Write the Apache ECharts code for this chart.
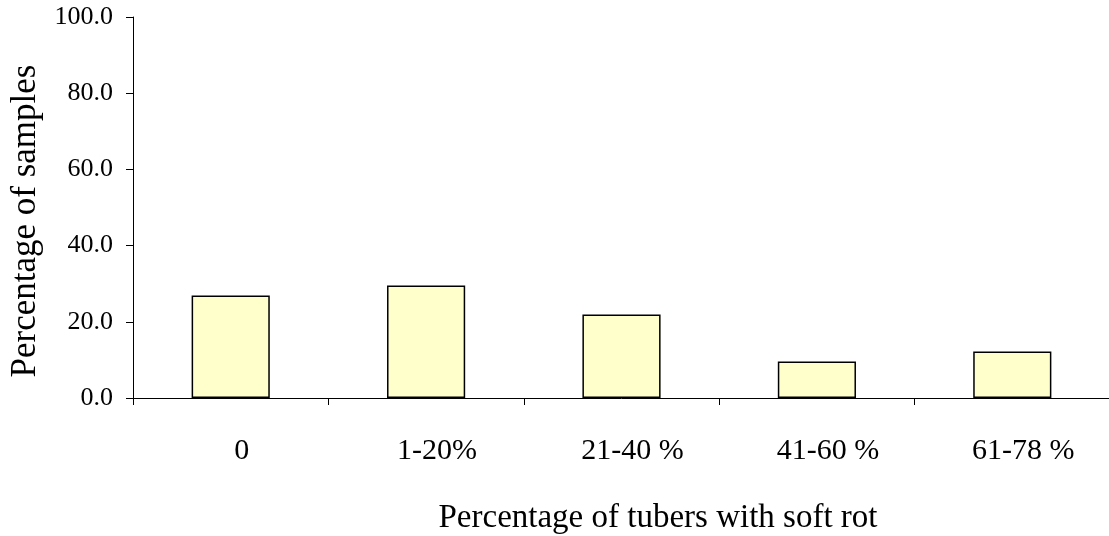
<!DOCTYPE html>
<html>
<head>
<meta charset="utf-8">
<script src="https://cdn.jsdelivr.net/npm/echarts@6/dist/echarts.min.js"></script>
<style>
  html, body { margin: 0; padding: 0; background: #fff; overflow: hidden; }
  #bar { width: 1109px; height: 536px; }
</style>
</head>
<body>
<div id="bar"></div>
<script>
// categories and values
var categories = ['0', '1-20%', '21-40 %', '41-60 %', '61-78 %'];
var samplePct = [26.9, 29.5, 21.9, 9.6, 12.2];
var yTicks = [0, 20, 40, 60, 80, 100];

var font = '"Liberation Serif", "Times New Roman", serif';

var chart = echarts.init(document.getElementById('bar'));
var option = {
  backgroundColor: '#fff',
  animation: false,
  grid: {
    left: 133,
    top: 17,
    width: 977,
    height: 381,
    containLabel: false,
    outerBoundsMode: 'none'
  },
  xAxis: {
    type: 'category',
    data: categories,
    name: 'Percentage of tubers with soft rot',
    nameLocation: 'middle',
    nameGap: 104,
    nameTextStyle: { fontFamily: font, fontSize: 33, color: '#000', padding: [0, 0, 0, 73] },
    axisLine: { lineStyle: { color: '#000', width: 1 } },
    axisTick: { show: true, length: 7, lineStyle: { color: '#000' } },
    axisLabel: { fontFamily: font, fontSize: 30, color: '#000', margin: 38, padding: [0, 0, 0, 22] }
  },
  yAxis: {
    type: 'value',
    min: yTicks[0],
    max: yTicks[yTicks.length - 1],
    interval: 20,
    name: 'Percentage of samples',
    nameLocation: 'middle',
    nameGap: 88,
    nameTextStyle: { fontFamily: font, fontSize: 35, color: '#000', padding: [0, 27, 0, 0] },
    axisLine: { show: true, lineStyle: { color: '#000', width: 1 } },
    axisTick: { show: true, length: 7, lineStyle: { color: '#000' } },
    splitLine: { show: false },
    axisLabel: {
      fontFamily: font, fontSize: 26, color: '#000', margin: 20,
      formatter: function (v) { return v.toFixed(1); }
    }
  },
  series: [{
    name: 'Percentage of samples',
    type: 'bar',
    data: samplePct,
    barWidth: '40%',
    itemStyle: { color: '#FFFFCC', borderColor: '#000', borderWidth: 1.5 }
  }]
};
chart.setOption(option);
</script>
</body>
</html>
